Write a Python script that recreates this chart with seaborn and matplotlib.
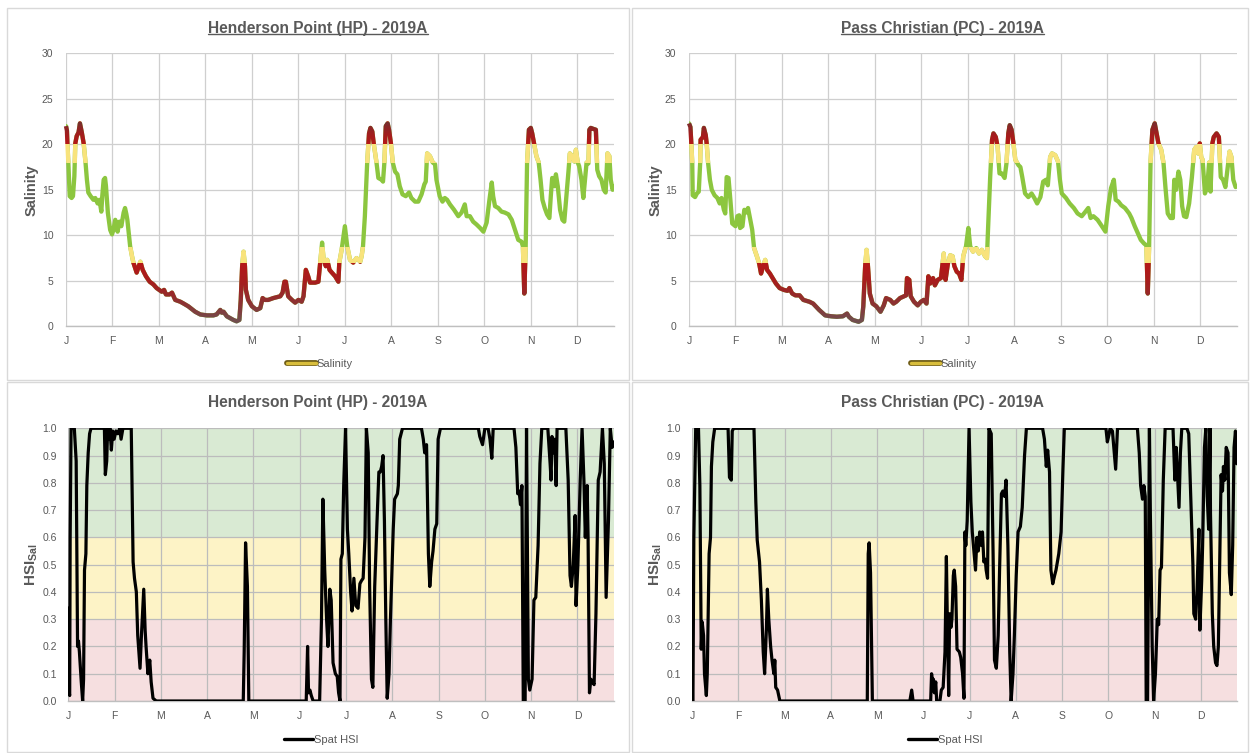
import numpy as np
import pandas as pd
import matplotlib
matplotlib.use("Agg")
import matplotlib.pyplot as plt
from matplotlib.patches import Rectangle
from matplotlib.lines import Line2D
from matplotlib.colors import LinearSegmentedColormap
import matplotlib.patheffects as pe
from matplotlib import font_manager
import seaborn as sns

# ---------------------------------------------------------------- data
# x positions are in months since 1 Jan (1.0 = 1 Feb, ..., 11.0 = 1 Dec)
MONTH_LABELS = ["J", "F", "M", "A", "M", "J", "J", "A", "S", "O", "N", "D"]

HP_SAL_MONTH = [
    0.00, 0.02, 0.03, 0.05, 0.08, 0.12, 0.15, 0.18, 0.20, 0.23, 0.27, 0.30, 0.34, 0.38,
    0.42, 0.45, 0.48, 0.53, 0.59, 0.63, 0.68, 0.72, 0.76, 0.78, 0.81, 0.84, 0.86, 0.90,
    0.95, 0.99, 1.02, 1.06, 1.11, 1.15, 1.19, 1.24, 1.27, 1.30, 1.32, 1.38, 1.42, 1.45,
    1.52, 1.60, 1.65, 1.72, 1.80, 1.88, 1.95, 2.06, 2.11, 2.15, 2.23, 2.28, 2.35, 2.46,
    2.53, 2.63, 2.78, 2.89, 3.03, 3.17, 3.24, 3.32, 3.35, 3.39, 3.46, 3.53, 3.60, 3.67,
    3.73, 3.76, 3.79, 3.82, 3.85, 3.87, 3.92, 4.00, 4.10, 4.18, 4.23, 4.28, 4.35, 4.46,
    4.61, 4.66, 4.70, 4.73, 4.78, 4.86, 4.93, 5.00, 5.07, 5.11, 5.16, 5.21, 5.25, 5.36,
    5.43, 5.47, 5.51, 5.54, 5.59, 5.62, 5.67, 5.72, 5.79, 5.86, 5.88, 5.93, 6.00, 6.05,
    6.11, 6.18, 6.25, 6.33, 6.36, 6.39, 6.43, 6.48, 6.52, 6.55, 6.59, 6.62, 6.68, 6.72,
    6.79, 6.82, 6.85, 6.88, 6.92, 6.95, 6.99, 7.03, 7.08, 7.13, 7.18, 7.24, 7.31, 7.38,
    7.43, 7.51, 7.58, 7.65, 7.71, 7.74, 7.77, 7.83, 7.89, 7.94, 7.97, 8.04, 8.10, 8.15,
    8.20, 8.26, 8.35, 8.44, 8.51, 8.58, 8.62, 8.69, 8.76, 8.83, 8.91, 8.98, 9.05, 9.11,
    9.16, 9.19, 9.23, 9.30, 9.37, 9.44, 9.52, 9.59, 9.66, 9.73, 9.80, 9.83, 9.86, 9.89,
    9.92, 9.96, 10.00, 10.03, 10.07, 10.12, 10.17, 10.21, 10.25, 10.30, 10.35, 10.40,
    10.43, 10.46, 10.51, 10.54, 10.58, 10.63, 10.68, 10.72, 10.76, 10.81, 10.84, 10.89,
    10.94, 10.97, 11.01, 11.04, 11.09, 11.13, 11.16, 11.20, 11.24, 11.26, 11.29, 11.34,
    11.40, 11.43, 11.47, 11.52, 11.57, 11.61, 11.65, 11.69, 11.72, 11.76, 11.79,
]
HP_SAL = [
    22.0, 21.5, 20.1, 18.0, 14.3, 14.1, 14.3, 16.5, 20.1, 20.9, 21.3, 22.3, 21.3, 20.1,
    18.0, 16.1, 14.7, 14.3, 13.9, 14.1, 13.5, 13.9, 12.6, 14.3, 16.1, 16.3, 15.4, 12.5,
    10.6, 10.1, 10.6, 11.7, 10.4, 11.5, 11.0, 12.5, 13.0, 12.3, 11.7, 8.8, 7.7, 7.0,
    5.9, 7.1, 6.2, 5.5, 4.9, 4.6, 4.2, 3.8, 4.0, 3.5, 3.5, 3.7, 2.9, 2.7,
    2.5, 2.2, 1.6, 1.3, 1.2, 1.2, 1.3, 1.8, 1.5, 1.6, 1.1, 0.9, 0.7, 0.55,
    0.7, 2.9, 6.6, 8.2, 6.6, 4.0, 2.9, 2.2, 1.8, 2.0, 3.1, 2.9, 2.9, 3.1,
    3.3, 3.7, 4.9, 4.9, 3.3, 2.9, 2.6, 2.9, 2.7, 3.3, 6.2, 5.5, 4.8, 4.8,
    4.9, 7.0, 9.2, 7.5, 6.6, 7.3, 6.2, 5.9, 5.5, 4.9, 7.0, 8.4, 11.0, 8.8,
    7.3, 7.0, 7.5, 7.1, 7.7, 8.8, 12.1, 18.0, 21.2, 21.8, 21.4, 20.1, 18.0, 16.3,
    16.1, 15.9, 18.0, 22.0, 22.3, 21.6, 20.1, 18.0, 17.0, 16.7, 15.4, 14.5, 14.3, 14.7,
    14.1, 13.7, 13.7, 14.5, 15.6, 15.9, 19.0, 18.7, 18.0, 17.8, 16.1, 14.3, 13.7, 14.1,
    13.9, 13.4, 12.8, 12.1, 12.5, 13.4, 12.1, 12.1, 11.5, 11.2, 10.8, 10.4, 11.4, 13.9,
    15.8, 14.3, 13.2, 13.0, 12.6, 12.5, 12.3, 11.7, 10.6, 9.5, 9.3, 8.8, 3.6, 8.8,
    18.0, 21.6, 21.8, 21.2, 20.1, 18.7, 18.0, 16.1, 13.9, 13.0, 12.3, 11.9,
    14.3, 16.3, 15.4, 16.7, 15.4, 12.8, 11.7, 11.5, 13.9, 17.0, 19.0, 18.7,
    18.1, 19.4, 18.0, 17.6, 16.1, 14.1, 15.8, 18.0, 17.9, 21.6, 21.8, 21.7,
    21.6, 17.2, 16.5, 16.1, 15.0, 14.7, 19.0, 18.7, 16.1, 15.0, 15.4,
]

PC_SAL_MONTH = [
    0.00, 0.03, 0.05, 0.07, 0.08, 0.13, 0.17, 0.21, 0.24, 0.25, 0.30, 0.32, 0.36, 0.38,
    0.41, 0.45, 0.49, 0.55, 0.61, 0.66, 0.70, 0.75, 0.78, 0.81, 0.85, 0.89, 0.93, 1.00,
    1.04, 1.08, 1.10, 1.15, 1.19, 1.23, 1.27, 1.32, 1.36, 1.40, 1.46, 1.51, 1.55, 1.60,
    1.64, 1.68, 1.74, 1.80, 1.87, 1.95, 2.04, 2.12, 2.16, 2.22, 2.29, 2.38, 2.46, 2.59,
    2.67, 2.80, 2.93, 3.06, 3.18, 3.31, 3.40, 3.44, 3.52, 3.65, 3.72, 3.75, 3.79, 3.82,
    3.85, 3.89, 3.95, 4.03, 4.12, 4.19, 4.24, 4.33, 4.40, 4.46, 4.54, 4.63, 4.67, 4.69,
    4.74, 4.77, 4.84, 4.92, 4.99, 5.05, 5.11, 5.15, 5.19, 5.25, 5.29, 5.35, 5.42, 5.45,
    5.48, 5.52, 5.57, 5.62, 5.67, 5.71, 5.76, 5.81, 5.86, 5.90, 5.96, 6.01, 6.05, 6.11,
    6.18, 6.24, 6.30, 6.37, 6.41, 6.43, 6.48, 6.52, 6.55, 6.60, 6.64, 6.68, 6.73, 6.79,
    6.83, 6.87, 6.90, 6.94, 6.98, 7.02, 7.09, 7.13, 7.17, 7.23, 7.30, 7.37, 7.43, 7.49,
    7.56, 7.62, 7.68, 7.72, 7.77, 7.81, 7.88, 7.94, 7.98, 8.02, 8.11, 8.19, 8.28, 8.36,
    8.45, 8.53, 8.59, 8.64, 8.70, 8.79, 8.87, 8.96, 9.02, 9.08, 9.14, 9.18, 9.24, 9.30,
    9.38, 9.47, 9.52, 9.59, 9.66, 9.72, 9.79, 9.84, 9.87, 9.90, 9.93, 9.97, 10.02, 10.06,
    10.10, 10.16, 10.21, 10.25, 10.30, 10.36, 10.41, 10.44, 10.48, 10.53, 10.57, 10.61,
    10.65, 10.70, 10.76, 10.82, 10.87, 10.91, 10.95, 10.99, 11.02, 11.05, 11.10, 11.15,
    11.19, 11.22, 11.26, 11.29, 11.35, 11.40, 11.44, 11.49, 11.54, 11.59, 11.63, 11.67,
    11.71, 11.76,
]
PC_SAL = [
    22.3, 21.9, 20.1, 17.9, 14.4, 14.2, 14.6, 14.8, 17.9, 20.5, 20.8, 21.8, 21.0, 20.1,
    18.0, 16.1, 15.0, 14.4, 14.1, 13.5, 14.1, 12.8, 12.4, 16.4, 16.3, 13.9, 11.3, 11.0,
    12.1, 12.2, 10.8, 11.0, 12.8, 12.5, 13.0, 11.7, 10.6, 8.6, 7.7, 6.9, 5.8, 6.7,
    7.3, 6.2, 5.8, 5.3, 4.7, 4.2, 4.0, 3.9, 4.2, 3.6, 3.4, 3.4, 2.9, 2.7,
    2.5, 1.8, 1.2, 1.1, 1.05, 1.1, 1.4, 1.05, 0.7, 0.5, 0.7, 2.2, 6.6, 8.4,
    6.6, 3.6, 2.5, 2.2, 1.6, 2.3, 3.1, 2.9, 2.5, 2.7, 3.1, 3.3, 3.4, 5.3,
    5.1, 3.3, 2.7, 2.3, 2.7, 2.9, 2.5, 5.5, 4.7, 5.3, 4.5, 5.1, 5.3, 6.6,
    8.0, 5.1, 6.9, 7.8, 7.7, 6.6, 6.0, 5.8, 5.1, 7.7, 8.8, 10.8, 8.8, 8.2,
    8.6, 8.0, 8.4, 7.7, 7.5, 10.2, 16.4, 20.5, 21.2, 20.8, 19.7, 16.8, 16.8, 16.3,
    17.9, 21.2, 22.1, 21.6, 20.1, 18.3, 17.7, 17.5, 16.4, 14.6, 14.2, 14.6, 14.1, 13.5,
    14.2, 15.9, 16.1, 15.5, 18.6, 19.0, 18.8, 18.1, 16.1, 14.6, 14.1, 13.5, 13.0, 12.4,
    12.1, 12.6, 13.0, 11.9, 12.1, 11.7, 11.1, 10.4, 13.2, 15.2, 16.1, 13.9, 13.7, 13.3,
    13.0, 12.4, 11.9, 11.0, 10.2, 9.5, 9.1, 8.9, 3.6, 8.9, 18.0, 21.6, 22.3, 21.2,
    20.1, 19.4, 17.9, 15.3, 12.4, 11.9, 11.9, 16.1, 15.0, 17.0, 16.1, 13.2,
    12.1, 12.0, 13.5, 16.4, 19.4, 19.7, 19.0, 20.1, 18.6, 18.3, 14.6, 15.3,
    18.0, 14.8, 20.1, 20.8, 21.2, 20.8, 16.4, 16.1, 15.3, 17.5, 19.2, 18.6,
    16.1, 15.3,
]

HP_HSI_MONTH = [
    0.00, 0.02, 0.03, 0.04, 0.06, 0.13, 0.17, 0.20, 0.22, 0.24, 0.28, 0.31, 0.33, 0.35,
    0.38, 0.40, 0.43, 0.46, 0.49, 0.78, 0.80, 0.83, 0.85, 0.87, 0.90, 0.93, 0.96, 0.99,
    1.03, 1.07, 1.11, 1.14, 1.18, 1.36, 1.40, 1.43, 1.47, 1.50, 1.55, 1.58, 1.63, 1.66,
    1.68, 1.72, 1.76, 1.79, 1.83, 1.90, 3.78, 3.80, 3.83, 3.87, 3.90, 5.14, 5.17, 5.19,
    5.22, 5.25, 5.29, 5.43, 5.47, 5.50, 5.54, 5.58, 5.61, 5.65, 5.68, 5.72, 5.77, 5.81,
    5.84, 5.87, 5.89, 5.92, 5.95, 5.99, 6.03, 6.06, 6.10, 6.13, 6.17, 6.21, 6.26, 6.30,
    6.33, 6.37, 6.41, 6.44, 6.48, 6.51, 6.55, 6.58, 6.62, 6.67, 6.71, 6.74, 6.77, 6.80,
    6.83, 6.86, 6.89, 6.93, 6.96, 7.02, 7.05, 7.11, 7.13, 7.16, 7.22, 7.63, 7.67, 7.70,
    7.74, 7.78, 7.81, 7.85, 7.88, 7.92, 7.96, 7.99, 8.04, 8.86, 8.89, 8.95, 9.00, 9.07,
    9.11, 9.15, 9.18, 9.63, 9.67, 9.71, 9.74, 9.77, 9.80, 9.83, 9.87, 9.90, 9.94, 9.97,
    10.02, 10.06, 10.10, 10.15, 10.19, 10.23, 10.36, 10.41, 10.43, 10.45, 10.48, 10.51,
    10.54, 10.56, 10.75, 10.80, 10.84, 10.87, 10.91, 10.95, 10.97, 11.01, 11.06, 11.10,
    11.14, 11.17, 11.21, 11.23, 11.26, 11.29, 11.33, 11.36, 11.40, 11.45, 11.49, 11.54,
    11.58, 11.62, 11.67, 11.71, 11.75, 11.78,
]
HP_HSI = [
    0.34, 0.03, 0.02, 0.60, 1.00, 1.00, 0.88, 0.20, 0.22, 0.18, 0.07, 0.00, 0.08, 0.48,
    0.54, 0.79, 0.91, 0.98, 1.00, 1.00, 0.83, 0.88, 1.00, 0.96, 1.00, 0.92, 0.99, 0.96,
    0.99, 0.98, 1.00, 0.96, 1.00, 1.00, 0.51, 0.45, 0.40, 0.24, 0.12, 0.24, 0.41, 0.26,
    0.20, 0.10, 0.15, 0.07, 0.01, 0.00, 0.00, 0.18, 0.58, 0.42, 0.00, 0.00, 0.20, 0.03,
    0.04, 0.02, 0.00, 0.00, 0.30, 0.74, 0.48, 0.30, 0.20, 0.41, 0.37, 0.14, 0.10, 0.09,
    0.03, 0.00, 0.52, 0.54, 0.79, 1.00, 0.63, 0.54, 0.40, 0.33, 0.45, 0.35, 0.34, 0.43,
    0.44, 0.45, 0.60, 1.00, 0.91, 0.42, 0.08, 0.05, 0.42, 0.66, 0.84, 0.84, 0.86, 0.90,
    0.66, 0.30, 0.01, 0.10, 0.30, 0.63, 0.74, 0.76, 0.79, 0.96, 1.00, 1.00, 0.96, 0.91,
    0.94, 0.54, 0.42, 0.51, 0.55, 0.63, 0.65, 0.96, 1.00, 1.00, 0.97, 0.94, 1.00, 1.00,
    0.96, 0.89, 1.00, 1.00, 0.93, 0.76, 0.77, 0.72, 0.79, 0.00, 0.00, 1.00, 0.08, 0.04,
    0.08, 0.37, 0.38, 0.57, 0.87, 1.00, 1.00, 0.87, 0.81, 0.97, 0.91, 0.96,
    0.79, 1.00, 1.00, 0.81, 0.46, 0.42, 0.50, 0.68, 0.35, 0.50, 0.81, 1.00,
    0.81, 0.60, 0.79, 0.60, 0.03, 0.08, 0.07, 0.06, 0.32, 0.81, 0.84, 1.00,
    0.87, 0.38, 0.66, 1.00, 0.93, 0.95,
]

PC_HSI_MONTH = [
    0.00, 0.01, 0.02, 0.04, 0.08, 0.14, 0.17, 0.20, 0.22, 0.25, 0.27, 0.31, 0.33, 0.37,
    0.40, 0.42, 0.45, 0.49, 0.78, 0.81, 0.85, 0.87, 0.90, 1.34, 1.38, 1.41, 1.46, 1.50,
    1.54, 1.57, 1.61, 1.63, 1.66, 1.70, 1.73, 1.77, 1.79, 1.81, 1.85, 1.90, 3.79, 3.81,
    3.83, 3.86, 3.90, 4.71, 4.75, 4.78, 5.16, 5.18, 5.20, 5.22, 5.24, 5.27, 5.29, 5.36,
    5.39, 5.43, 5.47, 5.50, 5.52, 5.55, 5.57, 5.60, 5.62, 5.65, 5.67, 5.70, 5.73, 5.78,
    5.81, 5.85, 5.88, 5.90, 5.92, 5.95, 5.99, 6.03, 6.06, 6.10, 6.13, 6.16, 6.19, 6.22,
    6.26, 6.28, 6.31, 6.34, 6.36, 6.39, 6.42, 6.47, 6.51, 6.54, 6.58, 6.62, 6.65, 6.69,
    6.72, 6.76, 6.79, 6.83, 6.87, 6.90, 6.94, 6.97, 7.01, 7.05, 7.10, 7.14, 7.19, 7.23,
    7.58, 7.62, 7.66, 7.69, 7.73, 7.76, 7.80, 7.84, 7.87, 7.93, 7.98, 8.02, 8.05, 8.95,
    8.98, 9.02, 9.04, 9.09, 9.13, 9.16, 9.20, 9.63, 9.67, 9.70, 9.74, 9.77, 9.80, 9.82,
    9.85, 9.89, 9.91, 9.95, 9.98, 10.02, 10.06, 10.09, 10.12, 10.15, 10.19, 10.23,
    10.40, 10.44, 10.47, 10.50, 10.53, 10.56, 10.59, 10.70, 10.74, 10.79, 10.83, 10.85,
    10.89, 10.92, 10.96, 10.98, 11.02, 11.04, 11.08, 11.11, 11.14, 11.17, 11.20, 11.21,
    11.25, 11.28, 11.32, 11.35, 11.38, 11.42, 11.44, 11.47, 11.49, 11.52, 11.55, 11.59,
    11.62, 11.66, 11.69, 11.72, 11.75, 11.78,
]
PC_HSI = [
    0.27, 0.00, 0.00, 0.60, 1.00, 1.00, 0.79, 0.19, 0.29, 0.24, 0.10, 0.02, 0.10, 0.54,
    0.60, 0.86, 0.95, 1.00, 1.00, 0.82, 0.81, 0.99, 1.00, 1.00, 0.73, 0.59, 0.51, 0.37,
    0.18, 0.10, 0.27, 0.41, 0.30, 0.20, 0.15, 0.10, 0.15, 0.05, 0.04, 0.00, 0.00, 0.54,
    0.58, 0.47, 0.00, 0.00, 0.04, 0.00, 0.00, 0.10, 0.07, 0.08, 0.03, 0.07, 0.00, 0.00,
    0.04, 0.05, 0.18, 0.53, 0.30, 0.02, 0.32, 0.27, 0.30, 0.46, 0.48, 0.42, 0.19, 0.18,
    0.16, 0.10, 0.01, 0.62, 0.57, 0.66, 1.00, 0.73, 0.62, 0.54, 0.48, 0.60, 0.55, 0.62,
    0.57, 0.62, 0.51, 0.52, 0.48, 0.45, 1.00, 0.98, 0.54, 0.15, 0.12, 0.24, 0.48, 0.76,
    0.77, 0.75, 0.81, 0.57, 0.18, 0.00, 0.10, 0.24, 0.46, 0.62, 0.64, 0.71, 0.90, 1.00,
    1.00, 0.96, 0.86, 0.92, 0.84, 0.48, 0.43, 0.46, 0.48, 0.54, 0.62, 0.85, 1.00, 1.00,
    0.95, 0.98, 1.00, 0.99, 0.91, 0.85, 1.00, 1.00, 0.91, 0.79, 0.74, 0.79, 0.75, 0.00,
    0.00, 1.00, 0.69, 0.20, 0.00, 0.10, 0.30, 0.28, 0.48, 0.49, 0.81, 1.00,
    1.00, 0.81, 0.93, 0.82, 0.71, 0.91, 1.00, 1.00, 0.98, 0.71, 0.50, 0.32,
    0.30, 0.41, 0.63, 0.26, 0.44, 0.57, 0.93, 1.00, 0.75, 0.63, 1.00, 0.69,
    0.32, 0.20, 0.14, 0.13, 0.20, 0.63, 0.83, 0.77, 0.86, 0.81, 0.93, 0.91,
    0.47, 0.39, 0.57, 0.93, 0.99, 0.87,
]

TITLES = ["Henderson Point (HP) - 2019A", "Pass Christian (PC) - 2019A"]

# ---------------------------------------------------------------- style
sns.set_theme(style="white")
_installed = {f.name for f in font_manager.fontManager.ttflist}
FONT = "Liberation Sans Narrow" if "Liberation Sans Narrow" in _installed else "Liberation Sans"
plt.rcParams["font.family"] = [FONT, "DejaVu Sans"]
plt.rcParams["mathtext.fontset"] = "custom"
plt.rcParams["mathtext.rm"] = FONT
plt.rcParams["mathtext.bf"] = FONT + ":bold"

W, H = 1250, 753
TEXT = "#595959"
GRID_TOP = "#cfcfcf"
GRID_BOT = "#bcbcbc"
AXIS_LINE = "#bfbfbf"
FRAME = "#d9d9d9"
GREEN = "#8cc63f"
YELLOW = "#f8e37c"
BAND_GREEN = "#d9ead3"
BAND_YELLOW = "#fdf3c6"
BAND_PINK = "#f6dfe0"
XMAX = 11.79
SAL_LW = 3.1
HSI_LW = 2.3

low_cmap = LinearSegmentedColormap.from_list(
    "low", [(0.0, "#675858"), (0.35, "#8a3434"), (0.7, "#a51e1e"), (1.0, "#b31818")])
high_cmap = LinearSegmentedColormap.from_list(
    "high", [(0.0, "#b31818"), (0.5, "#9c1f1f"), (1.0, "#74302f")])


def fx(px):
    return px / W


def fy(py):
    return 1 - py / H


def clipped_copy(ax, x, y, lo, hi, color, lw):
    line, = ax.plot(x, y, color=color, lw=lw, solid_joinstyle="round",
                    solid_capstyle="butt", zorder=3)
    line.set_clip_path(Rectangle((-5, lo), 30, hi - lo, transform=ax.transData))


def style_axes(ax, grid_color):
    ax.set_xlim(0, XMAX)
    ax.set_xticks(range(12))
    ax.set_xticklabels(MONTH_LABELS)
    ax.grid(True, color=grid_color, lw=0.9)
    ax.set_axisbelow(True)
    for side in ("top", "right", "left"):
        ax.spines[side].set_visible(False)
    ax.spines["bottom"].set_color(AXIS_LINE)
    ax.spines["bottom"].set_linewidth(1.0)
    ax.tick_params(axis="both", colors=TEXT, labelsize=7.5, length=0)
    ax.tick_params(axis="x", pad=7)
    ax.set_xlabel("")
    ax.set_ylabel("")


def salinity_panel(ax, months, values):
    df = pd.DataFrame({"month": months, "salinity": values})
    sns.lineplot(data=df, x="month", y="salinity", ax=ax, color=GREEN, lw=SAL_LW,
                 estimator=None, sort=False, legend=False, zorder=3)
    # threshold bands drawn on top of the green line
    clipped_copy(ax, months, values, 18, 20, YELLOW, SAL_LW)
    clipped_copy(ax, months, values, 7, 8.7, YELLOW, SAL_LW)
    edges = np.arange(0, 7.01, 0.25)
    for lo, hi in zip(edges[:-1], edges[1:]):
        clipped_copy(ax, months, values, lo, hi, low_cmap(hi / 7), SAL_LW)
    edges = np.arange(20, 23.01, 0.25)
    for lo, hi in zip(edges[:-1], edges[1:]):
        clipped_copy(ax, months, values, lo, hi, high_cmap(min((lo - 20) / 2.4, 1)), SAL_LW)
    ax.set_ylim(0, 30)
    ax.set_yticks(range(0, 31, 5))
    style_axes(ax, GRID_TOP)
    ax.tick_params(axis="y", pad=9)


def hsi_panel(ax, months, values):
    ax.axhspan(0.6, 1.0, color=BAND_GREEN, zorder=0, lw=0)
    ax.axhspan(0.3, 0.6, color=BAND_YELLOW, zorder=0, lw=0)
    ax.axhspan(0.0, 0.3, color=BAND_PINK, zorder=0, lw=0)
    df = pd.DataFrame({"month": months, "hsi": values})
    sns.lineplot(data=df, x="month", y="hsi", ax=ax, color="black", lw=HSI_LW,
                 estimator=None, sort=False, legend=False, zorder=3)
    ax.set_ylim(0, 1.0)
    ax.set_yticks(np.round(np.arange(0, 1.01, 0.1), 1))
    ax.set_yticklabels([f"{v:.1f}" for v in np.arange(0, 1.01, 0.1)])
    style_axes(ax, GRID_BOT)
    ax.tick_params(axis="y", pad=8)


# ---------------------------------------------------------------- figure
fig = plt.figure(figsize=(W / 100, H / 100), dpi=100)
fig.patch.set_facecolor("white")

# panel frames
for x0, y0, x1, y1 in [(7, 8, 629, 380), (632, 8, 1248, 380),
                       (7, 382, 629, 752), (632, 382, 1248, 752)]:
    fig.add_artist(Rectangle((fx(x0), fy(y1)), fx(x1) - fx(x0), fy(y0) - fy(y1),
                             transform=fig.transFigure, fill=False,
                             edgecolor=FRAME, lw=1.0))

ax_tl = fig.add_axes([fx(66), fy(326.3), fx(614) - fx(66), fy(53.3) - fy(326.3)])
ax_tr = fig.add_axes([fx(689), fy(326.3), fx(1237) - fx(689), fy(53.3) - fy(326.3)])
ax_bl = fig.add_axes([fx(68.3), fy(701), fx(614) - fx(68.3), fy(428.3) - fy(701)])
ax_br = fig.add_axes([fx(692), fy(701), fx(1237.3) - fx(692), fy(428.3) - fy(701)])

salinity_panel(ax_tl, HP_SAL_MONTH, HP_SAL)
salinity_panel(ax_tr, PC_SAL_MONTH, PC_SAL)
hsi_panel(ax_bl, HP_HSI_MONTH, HP_HSI)
hsi_panel(ax_br, PC_HSI_MONTH, PC_HSI)

# titles
top_titles = []
for cx, title in zip((318, 942), TITLES):
    top_titles.append(fig.text(fx(cx), fy(28), title, ha="center", va="center",
                               fontsize=11.2, fontweight="bold", color=TEXT))
    fig.text(fx(cx), fy(403), title, ha="center", va="center",
             fontsize=11.2, fontweight="bold", color=TEXT)

# axis titles
for cx in (32, 656):
    fig.text(fx(cx), fy(190), "Salinity", rotation=90, ha="center", va="center",
             fontsize=10.5, fontweight="bold", color=TEXT)
    fig.text(fx(cx), fy(565), r"$\mathbf{HSI}_{\mathbf{Sal}}$", rotation=90,
             ha="center", va="center", fontsize=11, color=TEXT)

# legends
sal_handle = Line2D([], [], color="#d8bd3c", lw=2.4,
                    path_effects=[pe.Stroke(linewidth=4.2, foreground="#6e5c16"), pe.Normal()])
hsi_handle = Line2D([], [], color="black", lw=2.4)
for ax, cx, cy, handle, label in [(ax_tl, 320, 364, sal_handle, "Salinity"),
                                  (ax_tr, 944, 364, sal_handle, "Salinity"),
                                  (ax_bl, 321, 740, hsi_handle, "Spat HSI"),
                                  (ax_br, 945, 740, hsi_handle, "Spat HSI")]:
    ax.legend(handles=[handle], labels=[label], loc="center",
              bbox_to_anchor=(fx(cx), fy(cy)), bbox_transform=fig.transFigure,
              frameon=False, fontsize=8, handlelength=2.6, handletextpad=0.1,
              labelcolor=TEXT)

# underline the salinity panel titles
fig.canvas.draw()
renderer = fig.canvas.get_renderer()
for t in top_titles:
    bb = t.get_window_extent(renderer).transformed(fig.transFigure.inverted())
    yline = bb.y0 + 0.0015
    fig.add_artist(Line2D([bb.x0, bb.x1], [yline, yline], transform=fig.transFigure,
                          color=TEXT, lw=1.0))

fig.savefig("out.png", dpi=100, facecolor="white")
